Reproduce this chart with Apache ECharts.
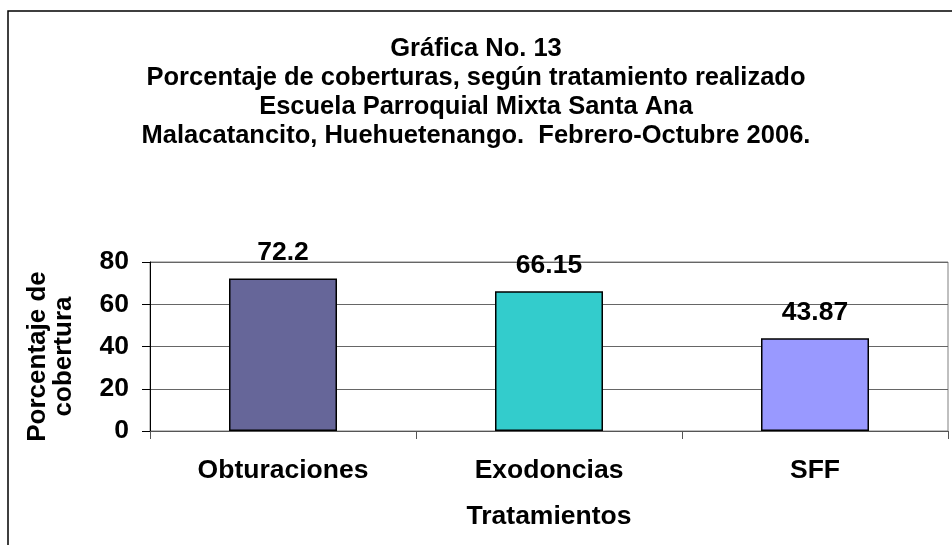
<!DOCTYPE html>
<html>
<head>
<meta charset="utf-8">
<script src="https://cdn.jsdelivr.net/npm/echarts@6/dist/echarts.min.js"></script>
<style>
html, body { margin: 0; padding: 0; background: #fff; }
#chart { width: 952px; height: 545px; }
</style>
</head>
<body>
<div id="chart"></div>
<script>
var categories = ['Obturaciones', 'Exodoncias', 'SFF'];
var values = [72.2, 66.15, 43.87];
var barColors = ['#666699', '#33CCCC', '#9999FF'];
var titleLines = [
    'Gráfica No. 13',
    'Porcentaje de coberturas, según tratamiento realizado',
    'Escuela Parroquial Mixta Santa Ana',
    'Malacatancito, Huehuetenango.  Febrero-Octubre 2006.'
];

var font = 'Liberation Sans, Arial, sans-serif';
var myChart = echarts.init(document.getElementById('chart'));

var option = {
    backgroundColor: '#fff',
    animation: false,
    title: {
        text: titleLines.join('\n'),
        left: 'center',
        top: 29,
        textStyle: {
            fontFamily: font,
            fontWeight: 'bold',
            fontSize: 25.5,
            lineHeight: 29,
            color: '#000'
        }
    },
    graphic: [{
        type: 'rect',
        shape: { x: 8, y: 11, width: 1000, height: 600 },
        style: { fill: 'none', stroke: '#000', lineWidth: 1.5 },
        silent: true
    }],
    grid: {
        left: 150,
        right: 4,
        top: 262,
        bottom: 114,
        show: true,
        borderColor: '#808080',
        borderWidth: 1
    },
    xAxis: {
        type: 'category',
        data: categories,
        name: 'Tratamientos',
        nameLocation: 'middle',
        nameGap: 72,
        nameTextStyle: {
            fontFamily: font,
            fontWeight: 'bold',
            fontSize: 26.5,
            color: '#000'
        },
        axisLine: { lineStyle: { color: '#555', width: 1 } },
        axisTick: { show: true, length: 8, lineStyle: { color: '#555' } },
        axisLabel: {
            margin: 26,
            fontFamily: font,
            fontWeight: 'bold',
            fontSize: 26.5,
            color: '#000'
        }
    },
    yAxis: {
        type: 'value',
        min: 0,
        max: 80,
        interval: 20,
        name: 'Porcentaje de\ncobertura',
        nameLocation: 'middle',
        nameGap: 73,
        nameTextStyle: {
            fontFamily: font,
            fontWeight: 'bold',
            fontSize: 26,
            lineHeight: 26,
            padding: [0, 20, 0, 0],
            color: '#000'
        },
        axisLine: { show: true, lineStyle: { color: '#000', width: 1 } },
        axisTick: { show: true, length: 8, lineStyle: { color: '#000' } },
        axisLabel: {
            margin: 21,
            fontFamily: font,
            fontWeight: 'bold',
            fontSize: 26.5,
            color: '#000'
        },
        splitLine: { lineStyle: { color: '#666', width: 1 } }
    },
    series: [{
        type: 'bar',
        barWidth: 108,
        data: values.map(function (v, i) {
            return { value: v, itemStyle: { color: barColors[i] } };
        }),
        itemStyle: { borderColor: '#000', borderWidth: 1.5 },
        label: {
            show: true,
            position: 'top',
            distance: 12,
            fontFamily: font,
            fontWeight: 'bold',
            fontSize: 26.5,
            color: '#000'
        }
    }]
};

myChart.setOption(option);
</script>
</body>
</html>
